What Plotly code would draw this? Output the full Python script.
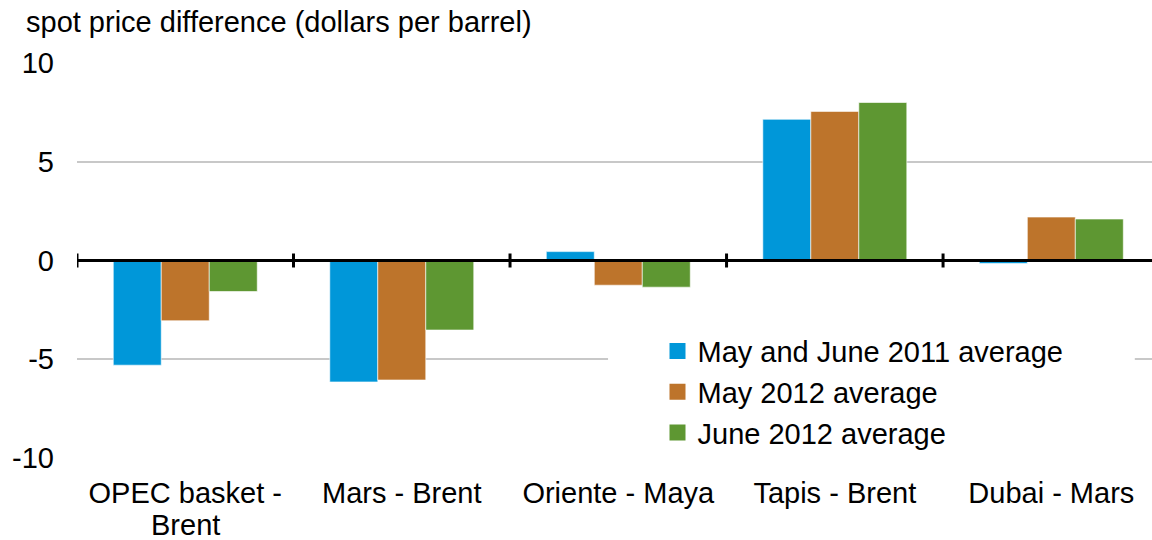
import plotly.graph_objects as go

categories = ["OPEC basket -<br>Brent", "Mars - Brent", "Oriente - Maya", "Tapis - Brent", "Dubai - Mars"]
series_names = ["May and June 2011 average", "May 2012 average", "June 2012 average"]
may_june_2011 = [-5.3, -6.15, 0.45, 7.15, -0.15]
may_2012 = [-3.05, -6.05, -1.25, 7.55, 2.2]
june_2012 = [-1.57, -3.52, -1.35, 8.0, 2.1]
colors = ["#0097D9", "#BD742B", "#5E9732"]
y_ticks = [-10, -5, 0, 5, 10]
y_tick_labels = ["-10", "-5", "0", "5", "10"]

FONT = "Liberation Sans, Arial, sans-serif"
FS = 29

fig = go.Figure()
for name, vals, col in zip(series_names, [may_june_2011, may_2012, june_2012], colors):
    fig.add_trace(go.Bar(
        x=categories, y=vals, name=name, showlegend=False,
        marker=dict(color=col, line=dict(color="rgba(255,255,255,0.6)", width=1)),
    ))
# legend entries with larger square swatches
for name, col in zip(series_names, colors):
    fig.add_trace(go.Scatter(
        x=[None], y=[None], mode="markers", name=name,
        marker=dict(symbol="square", size=16, color=col),
    ))

# zero line and category separator ticks
shapes = [dict(type="line", xref="paper", yref="y", x0=0, x1=1, y0=0, y1=0,
               line=dict(color="black", width=3), layer="above")]
for i in range(len(categories) + 1):
    shapes.append(dict(type="line", xref="x", yref="y", x0=i - 0.5, x1=i - 0.5,
                       ysizemode="pixel", yanchor=0, y0=-7, y1=7,
                       line=dict(color="black", width=3), layer="above"))
# white legend background band hiding the gridline behind the legend
shapes.append(dict(type="rect", xref="paper", yref="paper",
                   x0=0.494, x1=0.984, y0=0.06, y1=0.33,
                   fillcolor="white", line=dict(width=0), layer="above"))

# first line of each category label as tick text, second lines as tighter-spaced annotations
first_lines = [c.split("<br>")[0] for c in categories]
annotations = []
for c in categories:
    parts = c.split("<br>")
    if len(parts) > 1:
        annotations.append(dict(x=c, xref="x", y=0, yref="paper", yshift=-67,
                                text=parts[1], showarrow=False, yanchor="middle",
                                xanchor="center", font=dict(family=FONT, size=FS, color="black")))

fig.update_layout(
    width=1152, height=540,
    margin=dict(l=77, r=0, t=63, b=82),
    paper_bgcolor="white", plot_bgcolor="white",
    font=dict(family=FONT, size=FS, color="black"),
    barmode="group", bargap=0.335, bargroupgap=0,
    title=dict(text="spot price difference (dollars per barrel)",
               xref="container", x=26 / 1152, xanchor="left",
               yref="container", y=1 - 22 / 540, yanchor="middle",
               font=dict(family=FONT, size=FS, color="black")),
    xaxis=dict(type="category", range=[-0.5, len(categories) - 0.5 - 0.035],
               tickvals=categories, ticktext=first_lines,
               showgrid=False, showline=False, ticks="", zeroline=False,
               automargin=False,
               tickfont=dict(family=FONT, size=FS), ticklabelstandoff=15),
    yaxis=dict(range=[-10, 10], tickvals=y_ticks, ticktext=y_tick_labels,
               showgrid=True, gridcolor="#C8C8C8", gridwidth=1.5, zeroline=False,
               showline=False, ticks="", ticklabelstandoff=22, automargin=False,
               tickfont=dict(family=FONT, size=FS)),
    legend=dict(x=0.54, y=0.335, xanchor="left", yanchor="top",
                bgcolor="rgba(255,255,255,0)", font=dict(family=FONT, size=FS),
                traceorder="normal", itemwidth=30),
    shapes=shapes,
    annotations=annotations,
    showlegend=True,
)

fig.write_html("out.html", config={"displayModeBar": False},
               post_script="document.body.style.margin='0';")
